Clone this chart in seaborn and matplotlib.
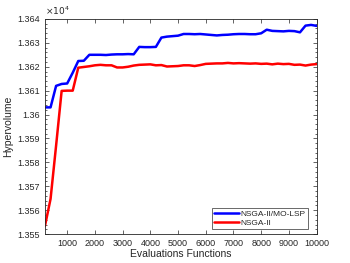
import matplotlib
matplotlib.use("Agg")
import matplotlib.pyplot as plt
import matplotlib.ticker as mticker
import seaborn as sns
import pandas as pd

# evaluations (x) and hypervolume (in units of 1e4)
evals = list(range(200, 10001, 200))

hv_mo_lsp = [
    1.3603, 1.3603, 1.3612, 1.36128, 1.36130, 1.36175, 1.36224, 1.36225, 1.36250, 1.36250,
    1.36250, 1.36249, 1.36251, 1.36252, 1.36252, 1.36253, 1.36252, 1.36283, 1.36282, 1.36282,
    1.36283, 1.36322, 1.36326, 1.36328, 1.36330, 1.36337, 1.36337, 1.36336, 1.36337, 1.36335,
    1.36333, 1.36331, 1.36333, 1.36334, 1.36336, 1.36337, 1.36337, 1.36336, 1.36336, 1.36340,
    1.36355, 1.36350, 1.36349, 1.36348, 1.36350, 1.36349, 1.36344, 1.36372, 1.36375, 1.36371,
]

hv_nsga2 = [
    1.35535, 1.35647, 1.3587, 1.36099, 1.36100, 1.36100, 1.36196, 1.36199, 1.36202, 1.36206,
    1.36208, 1.36206, 1.36206, 1.36197, 1.36197, 1.36200, 1.36205, 1.36208, 1.36209, 1.36210,
    1.36206, 1.36207, 1.36201, 1.36202, 1.36203, 1.36206, 1.36206, 1.36203, 1.36207, 1.36212,
    1.36213, 1.36214, 1.36214, 1.36216, 1.36214, 1.36215, 1.36214, 1.36213, 1.36214, 1.36212,
    1.36213, 1.36210, 1.36213, 1.36211, 1.36212, 1.36208, 1.36209, 1.36205, 1.36209, 1.36211,
]

labels = ["NSGA-II/MO-LSP", "NSGA-II"]

df = pd.DataFrame({
    "evals": evals * 2,
    "hv": hv_mo_lsp + hv_nsga2,
    "algo": [labels[0]] * len(evals) + [labels[1]] * len(evals),
})

sns.set_style("ticks")
plt.rcParams["font.family"] = ["Liberation Sans", "DejaVu Sans"]
text_col = "#262626"

fig = plt.figure(figsize=(3.5, 2.63), dpi=100)
ax = fig.add_axes([0.1286, 0.110, 0.776, 0.818])

sns.lineplot(data=df, x="evals", y="hv", hue="algo", hue_order=labels,
             palette=["#0000ff", "#ff0000"], linewidth=1.8, ax=ax)

ax.set_xlim(200, 10000)
ax.set_ylim(1.355, 1.364)
ax.set_xticks(range(1000, 10001, 1000))
ax.set_yticks([1.355 + 0.001 * i for i in range(10)])
ax.yaxis.set_minor_locator(mticker.AutoMinorLocator(5))
ax.yaxis.set_major_formatter(mticker.FuncFormatter(lambda v, p: f"{v:.3f}".rstrip("0").rstrip(".")))

ax.tick_params(which="both", direction="in", top=True, right=True,
               labelsize=6.5, colors=text_col, width=0.5)
ax.tick_params(which="major", length=3)
ax.tick_params(which="minor", length=1.5)
ax.tick_params(axis="x", which="minor", top=False, bottom=False)
for s in ax.spines.values():
    s.set_linewidth(0.6)
    s.set_color(text_col)

ax.set_xlabel("Evaluations Functions", fontsize=7.5, color=text_col, labelpad=1)
ax.set_ylabel("Hypervolume", fontsize=7.5, color=text_col, labelpad=3)
ax.text(0.0, 1.008, r"$\times10^{4}$", transform=ax.transAxes, fontsize=6.5,
        color=text_col, ha="left", va="bottom")

leg = ax.legend(loc="lower right", bbox_to_anchor=(0.968, 0.023), fontsize=6,
                frameon=True, fancybox=False, edgecolor=text_col,
                handlelength=3.0, handletextpad=0.2, borderpad=0.25,
                labelspacing=0.15, borderaxespad=0.0)
leg.get_frame().set_linewidth(0.6)

fig.savefig("out.png", dpi=100)
